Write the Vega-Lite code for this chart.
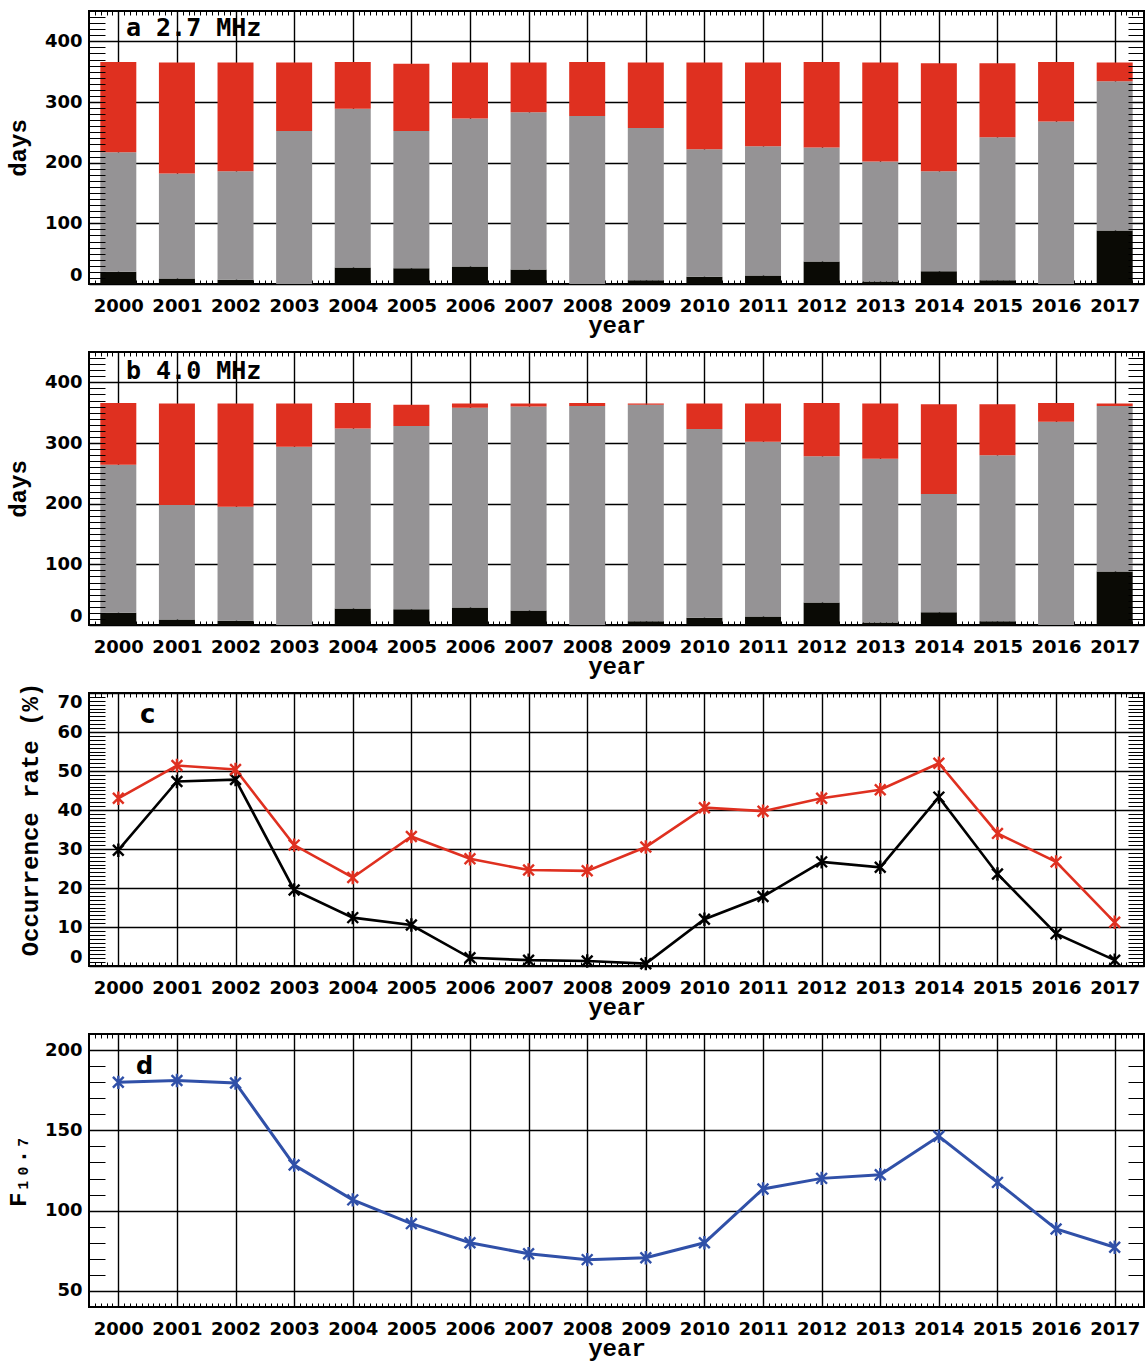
{
  "$schema": "https://vega.github.io/schema/vega-lite/v6.json",
  "background": "white",
  "padding": {"left": 5, "top": 9, "right": 0, "bottom": 0},
  "bounds": "flush",
  "spacing": 68,
  "resolve": {"scale": {"color": "independent"}},
  "config": {
    "view": {"stroke": "#000", "strokeWidth": 2},
    "axis": {
      "tickColor": "#000", "tickWidth": 1, "tickOpacity": 1,
      "gridColor": "#000", "gridOpacity": 1, "gridWidth": 1.4,
      "labelFont": "DejaVu Sans", "labelFontWeight": "bold", "labelFontSize": 18, "labelColor": "#000",
      "titleFont": "Liberation Mono", "titleFontWeight": "bold", "titleFontSize": 24, "titleColor": "#000"
    }
  },
  "datasets": {
    "a": [
      {"year": 2000, "kind": "missing", "days": 20}, {"year": 2000, "kind": "non-occurrence", "days": 197}, {"year": 2000, "kind": "occurrence", "days": 149},
      {"year": 2001, "kind": "missing", "days": 9}, {"year": 2001, "kind": "non-occurrence", "days": 173}, {"year": 2001, "kind": "occurrence", "days": 183},
      {"year": 2002, "kind": "missing", "days": 7}, {"year": 2002, "kind": "non-occurrence", "days": 179}, {"year": 2002, "kind": "occurrence", "days": 179},
      {"year": 2003, "kind": "missing", "days": 0}, {"year": 2003, "kind": "non-occurrence", "days": 252}, {"year": 2003, "kind": "occurrence", "days": 113},
      {"year": 2004, "kind": "missing", "days": 27}, {"year": 2004, "kind": "non-occurrence", "days": 262}, {"year": 2004, "kind": "occurrence", "days": 77},
      {"year": 2005, "kind": "missing", "days": 26}, {"year": 2005, "kind": "non-occurrence", "days": 226}, {"year": 2005, "kind": "occurrence", "days": 111},
      {"year": 2006, "kind": "missing", "days": 29}, {"year": 2006, "kind": "non-occurrence", "days": 244}, {"year": 2006, "kind": "occurrence", "days": 92},
      {"year": 2007, "kind": "missing", "days": 24}, {"year": 2007, "kind": "non-occurrence", "days": 259}, {"year": 2007, "kind": "occurrence", "days": 82},
      {"year": 2008, "kind": "missing", "days": 0}, {"year": 2008, "kind": "non-occurrence", "days": 277}, {"year": 2008, "kind": "occurrence", "days": 89},
      {"year": 2009, "kind": "missing", "days": 6}, {"year": 2009, "kind": "non-occurrence", "days": 251}, {"year": 2009, "kind": "occurrence", "days": 108},
      {"year": 2010, "kind": "missing", "days": 12}, {"year": 2010, "kind": "non-occurrence", "days": 210}, {"year": 2010, "kind": "occurrence", "days": 143},
      {"year": 2011, "kind": "missing", "days": 14}, {"year": 2011, "kind": "non-occurrence", "days": 213}, {"year": 2011, "kind": "occurrence", "days": 138},
      {"year": 2012, "kind": "missing", "days": 37}, {"year": 2012, "kind": "non-occurrence", "days": 188}, {"year": 2012, "kind": "occurrence", "days": 141},
      {"year": 2013, "kind": "missing", "days": 4}, {"year": 2013, "kind": "non-occurrence", "days": 198}, {"year": 2013, "kind": "occurrence", "days": 163},
      {"year": 2014, "kind": "missing", "days": 21}, {"year": 2014, "kind": "non-occurrence", "days": 165}, {"year": 2014, "kind": "occurrence", "days": 178},
      {"year": 2015, "kind": "missing", "days": 6}, {"year": 2015, "kind": "non-occurrence", "days": 236}, {"year": 2015, "kind": "occurrence", "days": 122},
      {"year": 2016, "kind": "missing", "days": 0}, {"year": 2016, "kind": "non-occurrence", "days": 268}, {"year": 2016, "kind": "occurrence", "days": 98},
      {"year": 2017, "kind": "missing", "days": 88}, {"year": 2017, "kind": "non-occurrence", "days": 246}, {"year": 2017, "kind": "occurrence", "days": 31}
    ],
    "b": [
      {"year": 2000, "kind": "missing", "days": 20}, {"year": 2000, "kind": "non-occurrence", "days": 244}, {"year": 2000, "kind": "occurrence", "days": 102},
      {"year": 2001, "kind": "missing", "days": 9}, {"year": 2001, "kind": "non-occurrence", "days": 189}, {"year": 2001, "kind": "occurrence", "days": 167},
      {"year": 2002, "kind": "missing", "days": 7}, {"year": 2002, "kind": "non-occurrence", "days": 188}, {"year": 2002, "kind": "occurrence", "days": 170},
      {"year": 2003, "kind": "missing", "days": 0}, {"year": 2003, "kind": "non-occurrence", "days": 294}, {"year": 2003, "kind": "occurrence", "days": 71},
      {"year": 2004, "kind": "missing", "days": 27}, {"year": 2004, "kind": "non-occurrence", "days": 297}, {"year": 2004, "kind": "occurrence", "days": 42},
      {"year": 2005, "kind": "missing", "days": 26}, {"year": 2005, "kind": "non-occurrence", "days": 302}, {"year": 2005, "kind": "occurrence", "days": 35},
      {"year": 2006, "kind": "missing", "days": 29}, {"year": 2006, "kind": "non-occurrence", "days": 329}, {"year": 2006, "kind": "occurrence", "days": 7},
      {"year": 2007, "kind": "missing", "days": 24}, {"year": 2007, "kind": "non-occurrence", "days": 336}, {"year": 2007, "kind": "occurrence", "days": 5},
      {"year": 2008, "kind": "missing", "days": 0}, {"year": 2008, "kind": "non-occurrence", "days": 361}, {"year": 2008, "kind": "occurrence", "days": 5},
      {"year": 2009, "kind": "missing", "days": 6}, {"year": 2009, "kind": "non-occurrence", "days": 357}, {"year": 2009, "kind": "occurrence", "days": 2},
      {"year": 2010, "kind": "missing", "days": 12}, {"year": 2010, "kind": "non-occurrence", "days": 311}, {"year": 2010, "kind": "occurrence", "days": 42},
      {"year": 2011, "kind": "missing", "days": 14}, {"year": 2011, "kind": "non-occurrence", "days": 288}, {"year": 2011, "kind": "occurrence", "days": 63},
      {"year": 2012, "kind": "missing", "days": 37}, {"year": 2012, "kind": "non-occurrence", "days": 241}, {"year": 2012, "kind": "occurrence", "days": 88},
      {"year": 2013, "kind": "missing", "days": 4}, {"year": 2013, "kind": "non-occurrence", "days": 270}, {"year": 2013, "kind": "occurrence", "days": 91},
      {"year": 2014, "kind": "missing", "days": 21}, {"year": 2014, "kind": "non-occurrence", "days": 195}, {"year": 2014, "kind": "occurrence", "days": 148},
      {"year": 2015, "kind": "missing", "days": 6}, {"year": 2015, "kind": "non-occurrence", "days": 274}, {"year": 2015, "kind": "occurrence", "days": 84},
      {"year": 2016, "kind": "missing", "days": 0}, {"year": 2016, "kind": "non-occurrence", "days": 335}, {"year": 2016, "kind": "occurrence", "days": 31},
      {"year": 2017, "kind": "missing", "days": 88}, {"year": 2017, "kind": "non-occurrence", "days": 273}, {"year": 2017, "kind": "occurrence", "days": 4}
    ],
    "c": [
      {"year": 2000, "band": "4.0 MHz", "rate": 29.7}, {"year": 2001, "band": "4.0 MHz", "rate": 47.3}, {"year": 2002, "band": "4.0 MHz", "rate": 47.8},
      {"year": 2003, "band": "4.0 MHz", "rate": 19.5}, {"year": 2004, "band": "4.0 MHz", "rate": 12.4}, {"year": 2005, "band": "4.0 MHz", "rate": 10.5},
      {"year": 2006, "band": "4.0 MHz", "rate": 2.1}, {"year": 2007, "band": "4.0 MHz", "rate": 1.5}, {"year": 2008, "band": "4.0 MHz", "rate": 1.3},
      {"year": 2009, "band": "4.0 MHz", "rate": 0.6}, {"year": 2010, "band": "4.0 MHz", "rate": 12}, {"year": 2011, "band": "4.0 MHz", "rate": 17.8},
      {"year": 2012, "band": "4.0 MHz", "rate": 26.7}, {"year": 2013, "band": "4.0 MHz", "rate": 25.3}, {"year": 2014, "band": "4.0 MHz", "rate": 43.3},
      {"year": 2015, "band": "4.0 MHz", "rate": 23.6}, {"year": 2016, "band": "4.0 MHz", "rate": 8.3}, {"year": 2017, "band": "4.0 MHz", "rate": 1.5},
      {"year": 2000, "band": "2.7 MHz", "rate": 43}, {"year": 2001, "band": "2.7 MHz", "rate": 51.4}, {"year": 2002, "band": "2.7 MHz", "rate": 50.4},
      {"year": 2003, "band": "2.7 MHz", "rate": 31}, {"year": 2004, "band": "2.7 MHz", "rate": 22.7}, {"year": 2005, "band": "2.7 MHz", "rate": 33.2},
      {"year": 2006, "band": "2.7 MHz", "rate": 27.5}, {"year": 2007, "band": "2.7 MHz", "rate": 24.6}, {"year": 2008, "band": "2.7 MHz", "rate": 24.4},
      {"year": 2009, "band": "2.7 MHz", "rate": 30.5}, {"year": 2010, "band": "2.7 MHz", "rate": 40.6}, {"year": 2011, "band": "2.7 MHz", "rate": 39.7},
      {"year": 2012, "band": "2.7 MHz", "rate": 43}, {"year": 2013, "band": "2.7 MHz", "rate": 45.2}, {"year": 2014, "band": "2.7 MHz", "rate": 52},
      {"year": 2015, "band": "2.7 MHz", "rate": 34}, {"year": 2016, "band": "2.7 MHz", "rate": 26.7}, {"year": 2017, "band": "2.7 MHz", "rate": 11.2}
    ],
    "d": [
      {"year": 2000, "f107": 179.9}, {"year": 2001, "f107": 181}, {"year": 2002, "f107": 179.5}, {"year": 2003, "f107": 128.4},
      {"year": 2004, "f107": 106.7}, {"year": 2005, "f107": 91.9}, {"year": 2006, "f107": 80}, {"year": 2007, "f107": 73.2},
      {"year": 2008, "f107": 69.5}, {"year": 2009, "f107": 70.7}, {"year": 2010, "f107": 80}, {"year": 2011, "f107": 113.5},
      {"year": 2012, "f107": 120.1}, {"year": 2013, "f107": 122.4}, {"year": 2014, "f107": 146.3}, {"year": 2015, "f107": 117.6},
      {"year": 2016, "f107": 88.6}, {"year": 2017, "f107": 77.2}
    ]
  },
  "vconcat": [
    {
      "width": 1055, "height": 273,
      "data": {"name": "a"},
      "resolve": {"axis": {"x": "independent", "y": "independent"}},
      "layer": [
        {
          "mark": {"type": "bar", "size": 36},
          "encoding": {
            "x": {"field": "year", "type": "quantitative", "scale": {"domain": [1999.5, 2017.5], "nice": false, "zero": false, "padding": 0},
                  "axis": {"orient": "bottom", "values": [2000,2001,2002,2003,2004,2005,2006,2007,2008,2009,2010,2011,2012,2013,2014,2015,2016,2017], "format": "d", "grid": true, "ticks": false, "domain": false, "labelPadding": 13, "labelFlush": false, "labelOverlap": false, "title": "year", "titlePadding": -2}},
            "y": {"field": "days", "type": "quantitative", "stack": "zero", "scale": {"domain": [0, 450], "nice": false, "zero": false, "padding": 0},
                  "axis": {"orient": "left", "values": [0,100,200,300,400], "grid": true, "ticks": false, "domain": false, "labelPadding": 7, "labelFlush": true, "title": "days", "titlePadding": 14}},
            "color": {"field": "kind", "type": "nominal", "scale": {"domain": ["missing", "non-occurrence", "occurrence"], "range": ["#0a0a05", "#959395", "#df3020"]}, "legend": null},
            "order": {"field": "kind", "sort": "ascending"}
          }
        },
        {
          "mark": {"type": "point", "opacity": 0},
          "encoding": {
            "x": {"field": "year", "type": "quantitative", "scale": {"domain": [1999.5, 2017.5], "nice": false, "zero": false, "padding": 0},
                  "axis": {"orient": "bottom", "tickCount": 180, "labels": false, "grid": false, "domain": false, "ticks": true, "tickSize": -4, "title": null, "zindex": 0}},
            "y": {"field": "days", "type": "quantitative", "scale": {"domain": [0, 450], "nice": false, "zero": false, "padding": 0},
                  "axis": {"orient": "left", "tickCount": 45, "labels": false, "grid": false, "domain": false, "ticks": true, "tickSize": -16, "title": null, "zindex": 1}}
          }
        },
        {
          "mark": {"type": "point", "opacity": 0},
          "encoding": {
            "x": {"field": "year", "type": "quantitative", "scale": {"domain": [1999.5, 2017.5], "nice": false, "zero": false, "padding": 0},
                  "axis": {"orient": "top", "tickCount": 180, "labels": false, "grid": false, "domain": false, "ticks": true, "tickSize": -4, "title": null, "zindex": 0}},
            "y": {"field": "days", "type": "quantitative", "scale": {"domain": [0, 450], "nice": false, "zero": false, "padding": 0},
                  "axis": {"orient": "right", "tickCount": 45, "labels": false, "grid": false, "domain": false, "ticks": true, "tickSize": -16, "title": null, "zindex": 1}}
          }
        },
        {
          "data": {"values": [{"label": "a 2.7 MHz"}]},
          "mark": {"type": "text", "align": "left", "baseline": "alphabetic", "font": "DejaVu Sans Mono", "fontWeight": "bold", "fontSize": 25, "color": "#000"},
          "encoding": {
            "x": {"datum": 2000.13, "type": "quantitative", "scale": {"domain": [1999.5, 2017.5], "nice": false, "zero": false, "padding": 0}, "axis": null},
            "y": {"datum": 408, "type": "quantitative", "scale": {"domain": [0, 450], "nice": false, "zero": false, "padding": 0}, "axis": null},
            "text": {"field": "label"}
          }
        }
      ]
    },
    {
      "width": 1055, "height": 273,
      "data": {"name": "b"},
      "resolve": {"axis": {"x": "independent", "y": "independent"}},
      "layer": [
        {
          "mark": {"type": "bar", "size": 36},
          "encoding": {
            "x": {"field": "year", "type": "quantitative", "scale": {"domain": [1999.5, 2017.5], "nice": false, "zero": false, "padding": 0},
                  "axis": {"orient": "bottom", "values": [2000,2001,2002,2003,2004,2005,2006,2007,2008,2009,2010,2011,2012,2013,2014,2015,2016,2017], "format": "d", "grid": true, "ticks": false, "domain": false, "labelPadding": 13, "labelFlush": false, "labelOverlap": false, "title": "year", "titlePadding": -2}},
            "y": {"field": "days", "type": "quantitative", "stack": "zero", "scale": {"domain": [0, 450], "nice": false, "zero": false, "padding": 0},
                  "axis": {"orient": "left", "values": [0,100,200,300,400], "grid": true, "ticks": false, "domain": false, "labelPadding": 7, "labelFlush": true, "title": "days", "titlePadding": 14}},
            "color": {"field": "kind", "type": "nominal", "scale": {"domain": ["missing", "non-occurrence", "occurrence"], "range": ["#0a0a05", "#959395", "#df3020"]}, "legend": null},
            "order": {"field": "kind", "sort": "ascending"}
          }
        },
        {
          "mark": {"type": "point", "opacity": 0},
          "encoding": {
            "x": {"field": "year", "type": "quantitative", "scale": {"domain": [1999.5, 2017.5], "nice": false, "zero": false, "padding": 0},
                  "axis": {"orient": "bottom", "tickCount": 180, "labels": false, "grid": false, "domain": false, "ticks": true, "tickSize": -4, "title": null, "zindex": 0}},
            "y": {"field": "days", "type": "quantitative", "scale": {"domain": [0, 450], "nice": false, "zero": false, "padding": 0},
                  "axis": {"orient": "left", "tickCount": 45, "labels": false, "grid": false, "domain": false, "ticks": true, "tickSize": -16, "title": null, "zindex": 1}}
          }
        },
        {
          "mark": {"type": "point", "opacity": 0},
          "encoding": {
            "x": {"field": "year", "type": "quantitative", "scale": {"domain": [1999.5, 2017.5], "nice": false, "zero": false, "padding": 0},
                  "axis": {"orient": "top", "tickCount": 180, "labels": false, "grid": false, "domain": false, "ticks": true, "tickSize": -4, "title": null, "zindex": 0}},
            "y": {"field": "days", "type": "quantitative", "scale": {"domain": [0, 450], "nice": false, "zero": false, "padding": 0},
                  "axis": {"orient": "right", "tickCount": 45, "labels": false, "grid": false, "domain": false, "ticks": true, "tickSize": -16, "title": null, "zindex": 1}}
          }
        },
        {
          "data": {"values": [{"label": "b 4.0 MHz"}]},
          "mark": {"type": "text", "align": "left", "baseline": "alphabetic", "font": "DejaVu Sans Mono", "fontWeight": "bold", "fontSize": 25, "color": "#000"},
          "encoding": {
            "x": {"datum": 2000.13, "type": "quantitative", "scale": {"domain": [1999.5, 2017.5], "nice": false, "zero": false, "padding": 0}, "axis": null},
            "y": {"datum": 405, "type": "quantitative", "scale": {"domain": [0, 450], "nice": false, "zero": false, "padding": 0}, "axis": null},
            "text": {"field": "label"}
          }
        }
      ]
    },
    {
      "width": 1055, "height": 273,
      "data": {"name": "c"},
      "resolve": {"axis": {"x": "independent", "y": "independent"}},
      "layer": [
        {
          "mark": {"type": "line", "strokeWidth": 2.6},
          "encoding": {
            "x": {"field": "year", "type": "quantitative", "scale": {"domain": [1999.5, 2017.5], "nice": false, "zero": false},
                  "axis": {"orient": "bottom", "values": [2000,2001,2002,2003,2004,2005,2006,2007,2008,2009,2010,2011,2012,2013,2014,2015,2016,2017], "format": "d", "grid": true, "ticks": false, "domain": false, "labelPadding": 13, "labelFlush": false, "labelOverlap": false, "title": "year", "titlePadding": -2}},
            "y": {"field": "rate", "type": "quantitative", "scale": {"domain": [0, 70], "nice": false, "zero": false},
                  "axis": {"orient": "left", "values": [0,10,20,30,40,50,60,70], "grid": true, "ticks": false, "domain": false, "labelPadding": 7, "labelFlush": true, "title": "Occurrence rate (%)", "titlePadding": 14, "titleY": 126}},
            "color": {"field": "band", "type": "nominal", "scale": {"domain": ["4.0 MHz", "2.7 MHz"], "range": ["#000000", "#df3020"]}, "legend": null}
          }
        },
        {
          "mark": {"type": "point", "shape": "M-0.8,-0.8L0.8,0.8M-0.8,0.8L0.8,-0.8M0,-1L0,1", "size": 180, "filled": false, "strokeWidth": 2.4, "opacity": 1},
          "encoding": {
            "x": {"field": "year", "type": "quantitative", "scale": {"domain": [1999.5, 2017.5], "nice": false, "zero": false},
                  "axis": {"orient": "bottom", "tickCount": 180, "labels": false, "grid": false, "domain": false, "ticks": true, "tickSize": -4, "title": null, "zindex": 0}},
            "y": {"field": "rate", "type": "quantitative", "scale": {"domain": [0, 70], "nice": false, "zero": false},
                  "axis": {"orient": "left", "tickCount": 70, "labels": false, "grid": false, "domain": false, "ticks": true, "tickSize": -16, "title": null, "zindex": 1}},
            "color": {"field": "band", "type": "nominal", "scale": {"domain": ["4.0 MHz", "2.7 MHz"], "range": ["#000000", "#df3020"]}, "legend": null}
          }
        },
        {
          "mark": {"type": "point", "opacity": 0},
          "encoding": {
            "x": {"field": "year", "type": "quantitative", "scale": {"domain": [1999.5, 2017.5], "nice": false, "zero": false},
                  "axis": {"orient": "top", "tickCount": 180, "labels": false, "grid": false, "domain": false, "ticks": true, "tickSize": -4, "title": null, "zindex": 0}},
            "y": {"field": "rate", "type": "quantitative", "scale": {"domain": [0, 70], "nice": false, "zero": false},
                  "axis": {"orient": "right", "tickCount": 70, "labels": false, "grid": false, "domain": false, "ticks": true, "tickSize": -16, "title": null, "zindex": 1}}
          }
        },
        {
          "data": {"values": [{"label": "c"}]},
          "mark": {"type": "text", "align": "left", "baseline": "alphabetic", "font": "DejaVu Sans", "fontWeight": "bold", "fontSize": 26, "color": "#000"},
          "encoding": {
            "x": {"datum": 2000.37, "type": "quantitative", "scale": {"domain": [1999.5, 2017.5], "nice": false, "zero": false}, "axis": null},
            "y": {"datum": 62.2, "type": "quantitative", "scale": {"domain": [0, 70], "nice": false, "zero": false}, "axis": null},
            "text": {"field": "label"}
          }
        }
      ]
    },
    {
      "width": 1055, "height": 273,
      "data": {"name": "d"},
      "resolve": {"axis": {"x": "independent", "y": "independent"}},
      "layer": [
        {
          "mark": {"type": "line", "strokeWidth": 3, "color": "#3050a8"},
          "encoding": {
            "x": {"field": "year", "type": "quantitative", "scale": {"domain": [1999.5, 2017.5], "nice": false, "zero": false},
                  "axis": {"orient": "bottom", "values": [2000,2001,2002,2003,2004,2005,2006,2007,2008,2009,2010,2011,2012,2013,2014,2015,2016,2017], "format": "d", "grid": true, "ticks": false, "domain": false, "labelPadding": 13, "labelFlush": false, "labelOverlap": false, "title": "year", "titlePadding": -2}},
            "y": {"field": "f107", "type": "quantitative", "scale": {"domain": [40, 210], "nice": false, "zero": false},
                  "axis": {"orient": "left", "values": [50,100,150,200], "grid": true, "ticks": false, "domain": false, "labelPadding": 7, "labelFlush": true, "title": "F₁₀.₇", "titlePadding": 14}}
          }
        },
        {
          "mark": {"type": "point", "shape": "M-0.8,-0.8L0.8,0.8M-0.8,0.8L0.8,-0.8M0,-1L0,1", "size": 180, "filled": false, "strokeWidth": 2.4, "opacity": 1, "color": "#3050a8"},
          "encoding": {
            "x": {"field": "year", "type": "quantitative", "scale": {"domain": [1999.5, 2017.5], "nice": false, "zero": false},
                  "axis": {"orient": "bottom", "tickCount": 180, "labels": false, "grid": false, "domain": false, "ticks": true, "tickSize": -4, "title": null, "zindex": 0}},
            "y": {"field": "f107", "type": "quantitative", "scale": {"domain": [40, 210], "nice": false, "zero": false},
                  "axis": {"orient": "left", "tickCount": 17, "labels": false, "grid": false, "domain": false, "ticks": true, "tickSize": -16, "title": null, "zindex": 1}}
          }
        },
        {
          "mark": {"type": "point", "opacity": 0},
          "encoding": {
            "x": {"field": "year", "type": "quantitative", "scale": {"domain": [1999.5, 2017.5], "nice": false, "zero": false},
                  "axis": {"orient": "top", "tickCount": 180, "labels": false, "grid": false, "domain": false, "ticks": true, "tickSize": -4, "title": null, "zindex": 0}},
            "y": {"field": "f107", "type": "quantitative", "scale": {"domain": [40, 210], "nice": false, "zero": false},
                  "axis": {"orient": "right", "tickCount": 17, "labels": false, "grid": false, "domain": false, "ticks": true, "tickSize": -16, "title": null, "zindex": 1}}
          }
        },
        {
          "data": {"values": [{"label": "d"}]},
          "mark": {"type": "text", "align": "left", "baseline": "alphabetic", "font": "DejaVu Sans", "fontWeight": "bold", "fontSize": 24, "color": "#000"},
          "encoding": {
            "x": {"datum": 2000.3, "type": "quantitative", "scale": {"domain": [1999.5, 2017.5], "nice": false, "zero": false}, "axis": null},
            "y": {"datum": 185.3, "type": "quantitative", "scale": {"domain": [40, 210], "nice": false, "zero": false}, "axis": null},
            "text": {"field": "label"}
          }
        }
      ]
    }
  ]
}
